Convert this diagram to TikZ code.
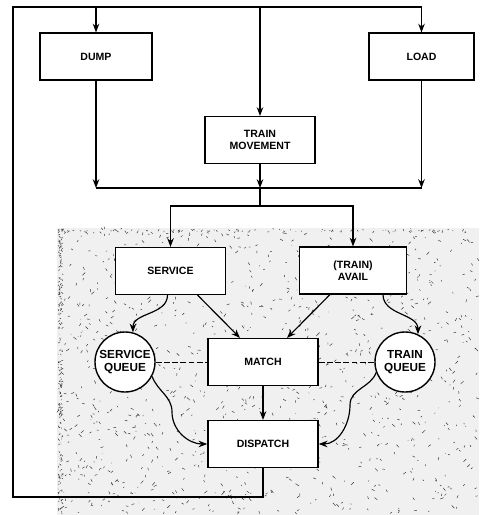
\documentclass[tikz,border=0pt]{standalone}
\usepackage{fontspec}
\setsansfont{Liberation Sans}
\usepackage{tikz}
\usetikzlibrary{arrows.meta,calc}

\tikzset{
  blk/.style={draw,line width=1.2pt,fill=white,minimum width=3.3cm,minimum height=1.4cm,
    align=center,font=\sffamily\bfseries\fontsize{9}{10.5}\selectfont},
  que/.style={draw,line width=1.2pt,circle,fill=white,minimum size=1.8cm,inner sep=0pt,
    align=center,font=\sffamily\bfseries\fontsize{10}{11.5}\selectfont},
  flow/.style={line width=1pt,->},
  link/.style={line width=0.8pt,dash pattern=on 5pt off 2pt},
  speck/.style={black!80,line width=0.4pt}
}

\begin{document}
\begin{tikzpicture}[x=0.03cm,y=-0.03cm,>=Stealth]
\useasboundingbox (0,0) rectangle (479,515);
% stippled area
\fill[black!6] (57,228) rectangle (479,515);
\pgfmathsetseed{4242}
\foreach \i in {1,...,1100}{
  \pgfmathsetmacro\px{58+420*rnd}
  \pgfmathsetmacro\py{229+285*rnd}
  \draw[speck] (\px,\py) -- ++(3*rand,3*rand);
}
\foreach \i in {1,...,220}{
  \pgfmathsetmacro\py{229+285*rnd}
  \draw[speck] (58+4*rnd,\py) -- ++(2*rnd,2*rand);
}
\foreach \i in {1,...,80}{
  \pgfmathsetmacro\px{58+420*rnd}
  \draw[speck] (\px,229+3*rnd) -- ++(2*rand,2*rnd);
}

% blocks
\node[blk,minimum width=3.36cm] (dump) at (96,56.5) {DUMP};
\node[blk,minimum width=3.15cm] (load) at (421.5,56.5) {LOAD};
\node[blk] (trainmove) at (260,140) {TRAIN\\MOVEMENT};
\node[blk] (service) at (170.5,271) {SERVICE};
\node[blk,minimum width=3.2cm] (avail) at (353,270.5) {(TRAIN)\\AVAIL};
\node[blk] (match) at (263,362) {MATCH};
\node[blk] (dispatch) at (263,444) {DISPATCH};
\node[que] (squeue) at (125,362) {SERVICE\\QUEUE};
\node[que] (tqueue) at (405,362) {TRAIN\\QUEUE};

% outer loop
\coordinate (lb) at (13,497);
\coordinate (lt) at (13,7);
\draw[line width=1pt] (dispatch.south) |- (lb) -- (lt) -- (lt -| load);
\draw[flow] (lt -| dump) -- (dump.north);
\draw[flow] (lt -| trainmove) -- (trainmove.north);
\draw[flow] (lt -| load) -- (load.north);

% merge
\coordinate (mg) at (260,188);
\coordinate (sp) at (260,206);
\draw[flow] (dump.south) -- (dump |- mg);
\draw[flow] (trainmove.south) -- (mg);
\draw[flow] (load.south) -- (load |- mg);
\draw[line width=1pt] (dump |- mg) -- (load |- mg);
\draw[line width=1pt] (mg) -- (sp);
\draw[flow] (sp) -| (service.north);
\draw[flow] (sp) -| (avail.north);

% inner flows
\coordinate (sbend) at (172,412);
\coordinate (tbend) at (350,405);
\draw[flow] ($(service.south)+(27,0)$) -- ($(match.north)+(-23,0)$);
\draw[flow] ($(avail.south)+(-23,0)$) -- ($(match.north)+(24,0)$);
\draw[flow] ($(service.south)+(-3,0)$) to[out=-90,in=90] (squeue.75);
\draw[flow] ($(avail.south)+(30,0)$) to[out=-90,in=90] (tqueue.65);
\draw[flow] (match.south) -- (dispatch.north);
\draw[flow] (squeue.-28) to[out=-70,in=90] (sbend) to[out=-90,in=180] (dispatch.west);
\draw[flow] (tqueue.200) to[out=-110,in=90] (tbend) to[out=-90,in=0] (dispatch.east);
\draw[link] (squeue.east) -- (match.west);
\draw[link] (match.east) -- (tqueue.west);
\end{tikzpicture}
\end{document}
